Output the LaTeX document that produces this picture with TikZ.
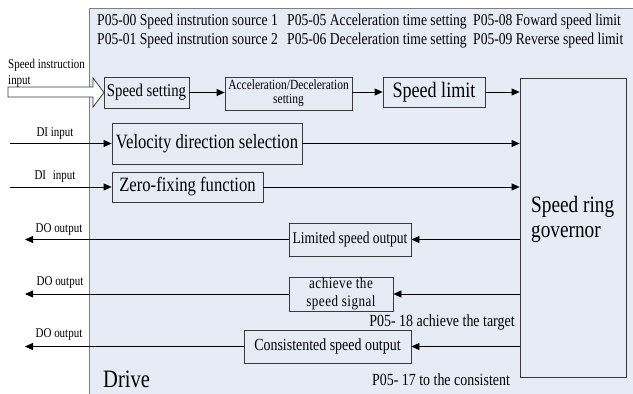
\documentclass[tikz,border=0pt]{standalone}
\usepackage{fontspec}
\setmainfont{Liberation Serif}[FakeStretch=0.82]
\usetikzlibrary{arrows.meta}
\definecolor{panelfill}{HTML}{E6ECF6}
\definecolor{panelline}{HTML}{808080}
\definecolor{boxline}{HTML}{3A3A3A}
\begin{document}
\begin{tikzpicture}[x=1pt,y=-1pt,
  blk/.style={draw=boxline, line width=0.8pt, inner sep=0pt, align=center},
  arr/.style={-{Triangle[length=8pt,width=7pt]}, line width=0.8pt, black},
  hdr/.style={anchor=west, inner sep=0pt, font=\fontsize{16.6}{19}\selectfont},
  small/.style={inner sep=0pt, font=\fontsize{13.4}{15}\selectfont},
  mid/.style={inner sep=0pt, font=\fontsize{17}{19}\selectfont}]
\useasboundingbox (0,0) rectangle (633,394);
\clip (0,0) rectangle (633,394);
% panel
\fill[white] (0,0) rectangle (633,394);
\draw[panelline, fill=panelfill, line width=1pt] (89,8) rectangle (650,410);
% header
\node[hdr] (h1) at (97,22) {P05-00 Speed instrution source 1};
\node[hdr] (h2) at (97,41) {P05-01 Speed instrution source 2};
\node[hdr] (h3) at (287,22) {P05-05 Acceleration time setting};
\node[hdr] (h4) at (287,41) {P05-06 Deceleration time setting};
\node[hdr] (h5) at (473,22) {P05-08 Foward speed limit};
\node[hdr] (h6) at (473,41) {P05-09 Reverse speed limit};
% boxes
\node[blk, minimum width=85pt, minimum height=31pt, font=\fontsize{18}{20}\selectfont] (ss) at (146.5,92.5) {Speed setting};
\node[blk, minimum width=127pt, minimum height=33pt, font=\fontsize{14}{14}\selectfont] (acc) at (288.5,93.5) {Acceleration/Deceleration\\setting};
\node[blk, minimum width=102pt, minimum height=30pt, font=\fontsize{22}{24}\selectfont] (sl) at (434,92) {Speed limit};
\node[blk, minimum width=106pt, minimum height=299pt] (gov) at (573,227.5) {};
\node[inner sep=0pt, anchor=west, align=left, font=\fontsize{23.5}{25}\selectfont] (govt) at (531,219.5) {Speed ring\\governor};
\node[blk, minimum width=190pt, minimum height=41pt, font=\fontsize{20.3}{22}\selectfont] (vds) at (207,143.5) {Velocity direction selection};
\node[blk, minimum width=151pt, minimum height=30pt, font=\fontsize{20.3}{22}\selectfont] (zf) at (187.5,187) {Zero-fixing function};
\node[blk, minimum width=122pt, minimum height=33pt, font=\fontsize{16.5}{18}\selectfont] (lso) at (350,239.5) {Limited speed output};
\node[blk, minimum width=104pt, minimum height=34pt, font=\fontsize{16}{18}\selectfont\addfontfeature{LetterSpace=3}] (ass) at (341,294) {achieve the\\speed signal};
\node[blk, minimum width=167pt, minimum height=33pt, font=\fontsize{17}{19}\selectfont] (cso) at (327.5,346.5) {Consistented speed output};
% hollow input arrow
\draw[boxline, fill=white, line width=0.8pt] (8,87) -- (93,87) -- (93,78) -- (104,92.5) -- (93,107) -- (93,97) -- (8,97) -- cycle;
\node[small, anchor=west] (si1) at (8,65) {Speed instruction};
\node[small, anchor=west] (si2) at (8,81) {input};
% chain arrows
\draw[arr] (ss.east) -- (ss.east -| acc.west);
\draw[arr] (acc.east |- sl.west) -- (sl.west);
\draw[arr] (sl.east) -- (sl.east -| gov.west);
\draw[arr] (vds.east) -- (vds.east -| gov.west);
\draw[arr] (zf.east) -- (zf.east -| gov.west);
% DI inputs
\coordinate (di1) at (10,143.5);
\coordinate (di2) at (10,187);
\draw[arr] (di1) -- (vds.west);
\draw[arr] (di2) -- (zf.west);
\node[small] (dil1) at (55,133) {DI input};
\node[small] (dil2) at (55,176) {DI\enspace input};
% outputs
\draw[arr] (gov.west |- lso.east) -- (lso.east);
\draw[arr] (gov.west |- ass.east) -- (ass.east);
\draw[arr] (gov.west |- cso.east) -- (cso.east);
\coordinate (do1) at (25,239.5);
\coordinate (do2) at (25,294);
\coordinate (do3) at (25,346.5);
\draw[arr] (lso.west) -- (do1);
\draw[arr] (ass.west) -- (do2);
\draw[arr] (cso.west) -- (do3);
\node[small] (dol1) at (59,229) {DO output};
\node[small] (dol2) at (60,282) {DO output};
\node[small] (dol3) at (59,334) {DO output};
% notes
\node[mid] (n18) at (442,322) {P05- 18 achieve the target};
\node[mid] (n17) at (441,380) {P05- 17 to the consistent};
\node[inner sep=0pt, anchor=west, font=\fontsize{25}{27}\selectfont] (drv) at (103,379.5) {Drive};
\end{tikzpicture}
\end{document}
